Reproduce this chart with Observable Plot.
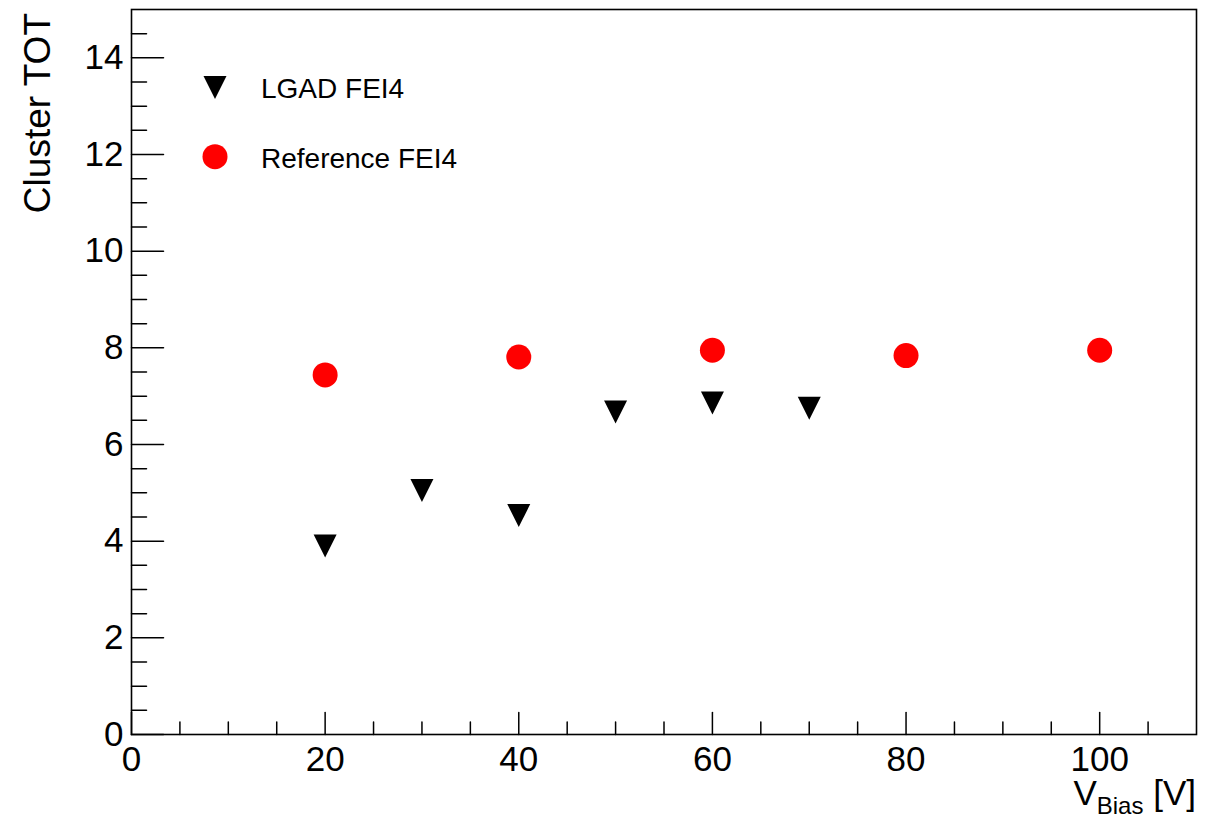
<!DOCTYPE html>
<html><head><meta charset="utf-8">
<script src="https://cdn.jsdelivr.net/npm/d3@7"></script>
<script src="https://cdn.jsdelivr.net/npm/@observablehq/plot@0.6"></script>
<style>html,body{margin:0;padding:0;background:#fff;overflow:hidden;} #chart{width:1209px;height:819px;}</style>
</head><body><div id="chart"></div>
<script>
const lgadVbias = [20, 30, 40, 50, 60, 70];
const lgadTot = [3.90, 5.05, 4.53, 6.67, 6.86, 6.75];
const refVbias = [20, 40, 60, 80, 100];
const refTot = [7.44, 7.81, 7.95, 7.84, 7.95];
const xMajorTicks = [0, 20, 40, 60, 80, 100];
const xMinorTicks = [5, 10, 15, 25, 30, 35, 45, 50, 55, 65, 70, 75, 85, 90, 95, 105];
const yMajorTicks = [0, 2, 4, 6, 8, 10, 12, 14];
const yMinorTicks = [0.5, 1, 1.5, 2.5, 3, 3.5, 4.5, 5, 5.5, 6.5, 7, 7.5, 8.5, 9, 9.5, 10.5, 11, 11.5, 12.5, 13, 13.5, 14.5];
const seriesNames = ["LGAD FEI4", "Reference FEI4"];
const xTitleParts = ["V", "Bias", " [V]"];
const yTitle = "Cluster TOT";

const lgad = lgadVbias.map((v, i) => ({v, tot: lgadTot[i]}));
const ref = refVbias.map((v, i) => ({v, tot: refTot[i]}));
const font = '"Liberation Sans", Arial, Helvetica, sans-serif';
const tickShape = {draw(ctx, l) { ctx.moveTo(0, 0); ctx.lineTo(0, -l); }};
const triDown = {draw(ctx, size) {
  const r = Math.sqrt(size / Math.PI);
  ctx.moveTo(-r, -r); ctx.lineTo(r, -r); ctx.lineTo(0, r); ctx.closePath();
}};
const tickStyle = {anchor: "start", shape: tickShape, stroke: "#000", strokeWidth: 1.5, fill: "none"};

const plot = Plot.plot({
  width: 1209, height: 819,
  marginLeft: 131, marginRight: 13, marginTop: 9, marginBottom: 85,
  style: {fontFamily: font, background: "#fff", color: "#000"},
  x: {domain: [0, 110]},
  y: {domain: [0, 15]},
  marks: [
    Plot.axisX(xMajorTicks, {tickSize: 0, tickPadding: 12, fontSize: 35, label: null}),
    Plot.axisY(yMajorTicks, {tickSize: 0, tickPadding: 8, fontSize: 35, label: null}),
    Plot.vector(xMajorTicks, {x: d => d, y: () => 0, length: 22, rotate: 0, ...tickStyle}),
    Plot.vector(xMinorTicks, {x: d => d, y: () => 0, length: 12.5, rotate: 0, ...tickStyle}),
    Plot.vector(yMajorTicks, {x: () => 0, y: d => d, length: 32, rotate: 90, ...tickStyle}),
    Plot.vector(yMinorTicks, {x: () => 0, y: d => d, length: 15, rotate: 90, ...tickStyle}),
    Plot.frame({stroke: "#000", strokeWidth: 1.6}),
    Plot.dot(ref, {x: "v", y: "tot", r: 12.5, fill: "#ff0000", stroke: "none"}),
    Plot.dot(lgad, {x: "v", y: "tot", r: 11.5, symbol: triDown, fill: "#000", stroke: "none"})
  ]
});
document.getElementById("chart").appendChild(plot);

const svg = d3.select(plot);
// Legend
const leg = svg.append("g").attr("font-family", font).attr("font-size", 28).attr("fill", "#000").attr("text-anchor", "start");
leg.append("path").attr("d", d3.symbol(triDown, 11.5 * 11.5 * Math.PI)()).attr("transform", "translate(215,87.5)").attr("fill", "#000");
leg.append("circle").attr("cx", 215).attr("cy", 156.7).attr("r", 12.5).attr("fill", "#ff0000");
leg.append("text").attr("x", 261).attr("y", 98.3).attr("text-anchor", "start").text(seriesNames[0]);
leg.append("text").attr("x", 261).attr("y", 168.3).attr("text-anchor", "start").text(seriesNames[1]);

// X title with subscript
const xt = svg.append("text").attr("x", 1196).attr("y", 805).attr("text-anchor", "end")
  .attr("font-family", font).attr("font-size", 35).attr("fill", "#000");
xt.append("tspan").text(xTitleParts[0]);
xt.append("tspan").attr("font-size", 24).attr("dy", 9).text(xTitleParts[1]);
xt.append("tspan").attr("dy", -9).text(xTitleParts[2]);

// Y title
svg.append("text").attr("transform", "translate(50,13) rotate(-90)").attr("text-anchor", "end")
  .attr("font-family", font).attr("font-size", 37).attr("fill", "#000").text(yTitle);
</script>
</body></html>
